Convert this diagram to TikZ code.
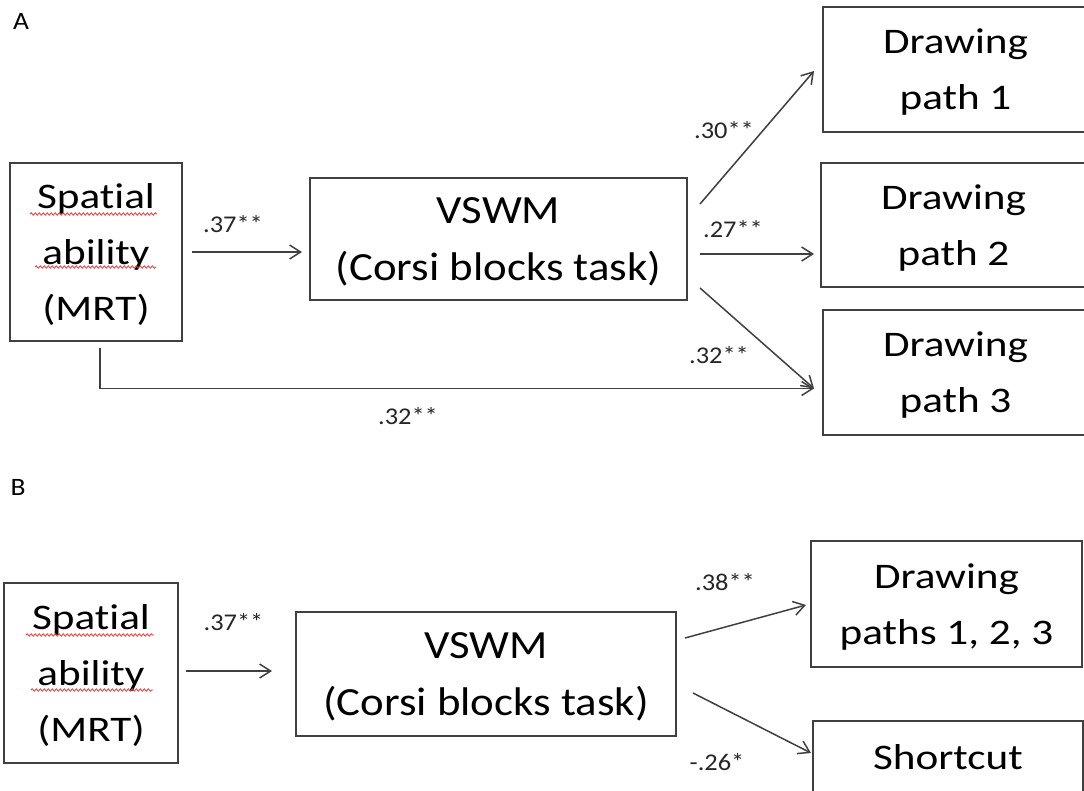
\documentclass[tikz,border=0pt]{standalone}
\usepackage{fontspec}
\setmainfont{Carlito}[Ligatures={NoCommon}]
\newfontfamily\boxfont{Carlito}[FakeStretch=1.2, Ligatures={NoCommon}]
\newfontfamily\vsfont{Carlito}[FakeStretch=1.12, Ligatures={NoCommon}]
\newfontfamily\numfont{Carlito}[FakeStretch=1.1, Ligatures={NoCommon}]
\usetikzlibrary{arrows.meta,decorations.pathmorphing}
\definecolor{edge}{HTML}{404040}
\definecolor{squiggle}{HTML}{E8393A}
\tikzset{
  box/.style={draw=edge, line width=2pt, inner sep=0pt, align=center, text=black,
              text depth=0pt, font={\boxfont\fontsize{36}{56}\selectfont}},
  vsbox/.style={box, font={\vsfont\fontsize{40}{57}\selectfont}},
  conn/.style={draw=edge, line width=1.5pt,
               -{Straight Barb[length=11pt,width=14pt,line width=1.5pt]}},
  coef/.style={anchor=base, inner sep=0pt, text=black!85,
               font={\numfont\fontsize{24}{28}\selectfont}},
  panel/.style={anchor=base, inner sep=0pt, text=black,
                font={\numfont\fontsize{25}{28}\selectfont}},
  spell/.style={draw=squiggle, line width=0.8pt,
                decorate, decoration={snake, segment length=4pt, amplitude=1.2pt}}
}
\begin{document}
\begin{tikzpicture}[x=1pt, y=-1pt]
  \clip (0,0) rectangle (1084,790);
  \fill[white] (0,0) rectangle (1084,790);

  % ---------------- Panel A ----------------
  \node[panel] (labA) at (21,29) {A};

  \node[box, minimum width=172pt, minimum height=178pt] (sa) at (96,252)
       {Spatial\\ability\\(MRT)};
  \node[vsbox, minimum width=377pt, minimum height=122pt] (va) at (498.5,239)
       {VSWM\\(Corsi blocks task)};
  \node[box, minimum width=265pt, minimum height=125pt] (d1) at (955.5,69.5)
       {Drawing\\path 1};
  \node[box, minimum width=265pt, minimum height=124pt] (d2) at (953.5,225)
       {Drawing\\path 2};
  \node[box, minimum width=265pt, minimum height=125pt] (d3) at (955.5,372.5)
       {Drawing\\path 3};

  \draw[spell] (30,214) -- (157,214);
  \draw[spell] (35,267) -- (156,267);

  \draw[conn] ([shift={(9,0)}]sa.east) -- ([shift={(-7,0)}]sa.east -| va.west);
  \draw[conn] ([shift={(12,-35)}]va.east) -- ([shift={(-8,1.5)}]d1.west);
  \draw[conn] ([shift={(12,15)}]va.east) -- ([shift={(-6,29)}]d2.west);
  \draw[conn] ([shift={(12,49)}]va.east) -- ([shift={(-8,16)}]d3.west);
  \draw[conn] ([shift={(4,6)}]sa.south) |- ([shift={(-8,16)}]d3.west);

  \node[coef] (cA1) at (233,232) {.37**};
  \node[coef] (cA2) at (724,138) {.30**};
  \node[coef] (cA3) at (733,237) {.27**};
  \node[coef] (cA4) at (719,363) {.32**};
  \node[coef] (cA5) at (408,424) {.32**};

  % ---------------- Panel B ----------------
  \node[panel] (labB) at (18,495) {B};

  \node[box, minimum width=174pt, minimum height=180pt] (sb) at (91,673)
       {Spatial\\ability\\(MRT)};
  \node[vsbox, minimum width=380pt, minimum height=124pt] (vb) at (486,674)
       {VSWM\\(Corsi blocks task)};
  \node[box, minimum width=271pt, minimum height=126pt] (dp) at (946.5,604)
       {Drawing\\paths 1, 2, 3};
  \node[box, minimum width=270pt, minimum height=72pt] (sc) at (948,757)
       {Shortcut};

  \draw[spell] (26,635) -- (154,635);
  \draw[spell] (31,690) -- (153,690);

  \draw[conn] ([shift={(7,-2)}]sb.east) -- ([shift={(-23,-2)}]sb.east -| vb.west);
  \draw[conn] ([shift={(8,-36)}]vb.east) -- ([shift={(-4,1)}]dp.west);
  \draw[conn] ([shift={(16,19)}]vb.east) -- ([shift={(-1,-4)}]sc.west);

  \node[coef] (cB1) at (233.5,630) {.37**};
  \node[coef] (cB2) at (725,590) {.38**};
  \node[coef] (cB3) at (717,770) {-.26*};
\end{tikzpicture}
\end{document}
